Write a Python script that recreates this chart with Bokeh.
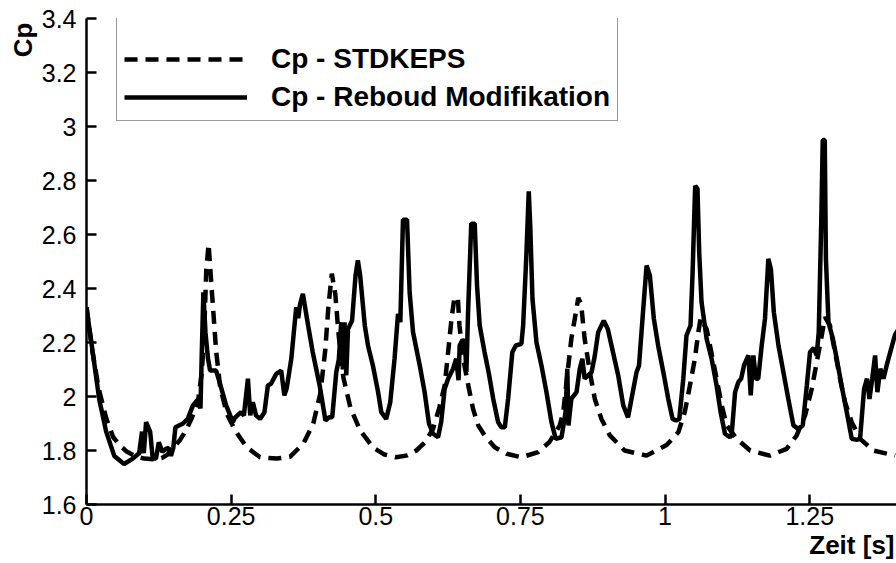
import math
from bokeh.plotting import figure
from bokeh.models import Range1d, FixedTicker, Legend, LegendItem, Title
from bokeh.embed import file_html
from bokeh.resources import INLINE

# ---------------- data ----------------
std_x = [0.000, 0.010, 0.021, 0.034, 0.046, 0.057, 0.070, 0.085, 0.100, 0.115,
         0.130, 0.140, 0.150, 0.162, 0.172, 0.182, 0.193, 0.199, 0.203, 0.207,
         0.211, 0.215, 0.219, 0.224, 0.231, 0.2426, 0.257, 0.277, 0.300, 0.329,
         0.352, 0.375, 0.392, 0.404, 0.4126, 0.418, 0.424, 0.430, 0.4357, 0.444,
         0.456, 0.473, 0.496, 0.515, 0.535, 0.555, 0.570, 0.585, 0.599, 0.610,
         0.619, 0.625, 0.631, 0.636, 0.642, 0.6446, 0.651, 0.660, 0.668, 0.677,
         0.688, 0.7056, 0.726, 0.752, 0.7806, 0.800, 0.818, 0.824, 0.831, 0.838,
         0.844, 0.850, 0.855, 0.861, 0.870, 0.8786, 0.890, 0.9045, 0.930, 0.968,
         1.0026, 1.023, 1.034, 1.043, 1.0515, 1.0575, 1.0614, 1.0718, 1.080, 1.089,
         1.098, 1.1064, 1.124, 1.147, 1.181, 1.210, 1.2275, 1.242, 1.2535, 1.2633,
         1.2708, 1.2765, 1.285, 1.2938, 1.3024, 1.311, 1.3227, 1.337, 1.360, 1.3976]
std_y = [2.33, 2.17, 2.03, 1.92, 1.85, 1.82, 1.795, 1.778, 1.77, 1.768,
         1.772, 1.785, 1.81, 1.84, 1.875, 1.92, 1.985, 2.085, 2.21, 2.467,
         2.565, 2.44, 2.32, 2.17, 2.035, 1.936, 1.874, 1.812, 1.775, 1.77,
         1.777, 1.826, 1.90, 2.01, 2.17, 2.33, 2.455, 2.38, 2.23, 2.07,
         1.96, 1.874, 1.81, 1.785, 1.775, 1.782, 1.80, 1.83, 1.88, 1.96,
         2.04, 2.164, 2.29, 2.368, 2.36, 2.263, 2.14, 2.04, 1.955, 1.893,
         1.856, 1.812, 1.788, 1.775, 1.794, 1.831, 1.893, 1.942, 2.08, 2.214,
         2.288, 2.365, 2.34, 2.214, 2.09, 1.991, 1.917, 1.856, 1.80, 1.781,
         1.82, 1.868, 1.942, 2.041, 2.14, 2.238, 2.29, 2.25, 2.164, 2.066,
         1.967, 1.893, 1.843, 1.80, 1.781, 1.806, 1.856, 1.93, 2.028, 2.14,
         2.226, 2.294, 2.263, 2.164, 2.066, 1.979, 1.905, 1.843, 1.80, 1.781]

reb_x = [0.000, 0.011, 0.022, 0.034, 0.048, 0.065, 0.080, 0.091, 0.096, 0.099,
         0.103, 0.110, 0.1145, 0.120, 0.125, 0.131, 0.1375, 0.142, 0.146, 0.150,
         0.1537, 0.166, 0.175, 0.184, 0.193, 0.197, 0.199, 0.202, 0.2056, 0.210,
         0.2137, 0.224, 0.230, 0.2414, 0.253, 0.256, 0.267, 0.272, 0.279, 0.283,
         0.2875, 0.293, 0.300, 0.3076, 0.3135, 0.319, 0.328, 0.3365, 0.342, 0.346,
         0.354, 0.3625, 0.366, 0.369, 0.374, 0.383, 0.391, 0.403, 0.413, 0.419,
         0.4247, 0.4317, 0.436, 0.4403, 0.443, 0.446, 0.449, 0.452, 0.459, 0.465,
         0.469, 0.473, 0.481, 0.4865, 0.495, 0.504, 0.5095, 0.518, 0.525, 0.5325,
         0.5384, 0.5424, 0.547, 0.554, 0.5585, 0.5644, 0.576, 0.5844, 0.592, 0.599,
         0.6076, 0.613, 0.619, 0.625, 0.6336, 0.639, 0.643, 0.645, 0.650, 0.654,
         0.6566, 0.6595, 0.665, 0.671, 0.675, 0.6796, 0.688, 0.695, 0.703, 0.7114,
         0.717, 0.723, 0.7287, 0.736, 0.742, 0.7517, 0.7547, 0.760, 0.7644, 0.767,
         0.7708, 0.7777, 0.7863, 0.795, 0.8036, 0.811, 0.821, 0.828, 0.831, 0.833,
         0.838, 0.847, 0.8526, 0.857, 0.861, 0.873, 0.8786, 0.8844, 0.894, 0.901,
         0.910, 0.919, 0.9277, 0.936, 0.942, 0.9507, 0.955, 0.961, 0.968, 0.9737,
         0.9806, 0.988, 0.997, 1.0055, 1.013, 1.019, 1.0246, 1.0315, 1.037, 1.044,
         1.0476, 1.052, 1.056, 1.059, 1.063, 1.0718, 1.0804, 1.089, 1.096, 1.1035,
         1.112, 1.115, 1.121, 1.1266, 1.1315, 1.1364, 1.144, 1.148, 1.1526, 1.157,
         1.161, 1.167, 1.1727, 1.1785, 1.183, 1.188, 1.196, 1.2045, 1.213, 1.2218,
         1.230, 1.238, 1.245, 1.2505, 1.257, 1.262, 1.2656, 1.2698, 1.2725, 1.276,
         1.278, 1.2824, 1.290, 1.2967, 1.305, 1.314, 1.3227, 1.331, 1.337, 1.344,
         1.349, 1.3533, 1.358, 1.363, 1.367, 1.372, 1.3775, 1.383, 1.397, 1.402]
reb_y = [2.33, 2.16, 1.99, 1.87, 1.78, 1.75, 1.77, 1.79, 1.87, 1.79,
         1.905, 1.87, 1.77, 1.77, 1.83, 1.795, 1.806, 1.81, 1.78, 1.81,
         1.886, 1.899, 1.917, 1.967, 1.99, 1.956, 2.14, 2.386, 2.238, 2.14,
         2.096, 2.096, 2.053, 1.967, 1.905, 1.92, 1.942, 1.93, 2.066, 1.93,
         1.979, 1.93, 1.917, 1.942, 2.041, 2.047, 2.084, 2.096, 2.004, 2.03,
         2.14, 2.331, 2.29, 2.34, 2.38, 2.263, 2.164, 2.041, 1.911, 1.923,
         1.923, 2.09, 2.135, 2.275, 2.10, 2.275, 2.078, 2.25, 2.281, 2.448,
         2.504, 2.448, 2.263, 2.189, 2.115, 2.016, 1.942, 1.917, 1.979, 2.141,
         2.306, 2.275, 2.655, 2.655, 2.386, 2.238, 2.115, 2.016, 1.899, 1.862,
         1.849, 1.905, 2.028, 2.066, 2.103, 2.14, 2.06, 2.189, 2.21, 2.20,
         2.09, 2.312, 2.64, 2.64, 2.411, 2.263, 2.164, 2.09, 1.991, 1.905,
         1.886, 1.886, 1.991, 2.164, 2.189, 2.195, 2.263, 2.51, 2.76, 2.63,
         2.362, 2.201, 2.115, 2.016, 1.905, 1.843, 1.849, 1.942, 2.103, 1.893,
         1.991, 2.016, 2.103, 2.14, 2.066, 2.09, 2.152, 2.238, 2.281, 2.25,
         2.164, 2.078, 1.967, 1.923, 1.991, 2.09, 2.115, 2.288, 2.485, 2.448,
         2.288, 2.189, 2.09, 1.991, 1.917, 1.911, 1.917, 2.066, 2.226, 2.263,
         2.46, 2.78, 2.77, 2.534, 2.35, 2.214, 2.14, 2.041, 1.942, 1.862,
         1.849, 1.856, 2.016, 2.053, 2.066, 2.115, 2.152, 2.004, 2.152, 2.066,
         2.066, 2.189, 2.288, 2.51, 2.47, 2.312, 2.189, 2.09, 1.991, 1.893,
         1.88, 1.893, 2.041, 2.164, 2.18, 2.152, 2.238, 2.633, 2.95, 2.95,
         2.51, 2.275, 2.214, 2.14, 2.041, 1.942, 1.843, 1.84, 1.843, 2.028,
         2.066, 1.991, 2.066, 2.152, 2.016, 2.103, 2.066, 2.115, 2.226, 2.245]

series_labels = ["Cp - STDKEPS", "Cp - Reboud Modifikation"]
x_ticks = [0.0, 0.25, 0.5, 0.75, 1.0, 1.25]
x_tick_labels = ["0", "0.25", "0.5", "0.75", "1", "1.25"]
y_ticks = [1.6, 1.8, 2.0, 2.2, 2.4, 2.6, 2.8, 3.0, 3.2, 3.4]
y_tick_labels = ["1.6", "1.8", "2", "2.2", "2.4", "2.6", "2.8", "3", "3.2", "3.4"]
x_title = "Zeit [s]"
y_title = "Cp"

FONT = "Liberation Sans"

p = figure(width=896, height=563, output_backend="svg", toolbar_location=None,
           x_range=Range1d(0, 1.4), y_range=Range1d(1.6, 3.4),
           min_border_left=86, min_border_right=0, min_border_top=18,
           min_border_bottom=59)
p.outline_line_color = None
p.grid.visible = False
p.background_fill_color = "white"
p.border_fill_color = "white"

for ax in (p.xaxis[0], p.yaxis[0]):
    ax.axis_line_width = 2.5
    ax.axis_line_color = "black"
    ax.major_tick_in = 10
    ax.major_tick_out = 0
    ax.major_tick_line_width = 2.5
    ax.major_tick_line_color = "black"
    ax.minor_tick_line_color = None
    ax.major_label_text_font = FONT
    ax.major_label_text_font_size = "25px"
    ax.major_label_text_color = "black"

p.xaxis.ticker = FixedTicker(ticks=x_ticks)
p.xaxis.major_label_overrides = {t: l for t, l in zip(x_ticks, x_tick_labels)}
p.xaxis.major_label_standoff = 2

p.yaxis.ticker = FixedTicker(ticks=y_ticks)
p.yaxis.major_label_overrides = {t: l for t, l in zip(y_ticks, y_tick_labels)}
p.yaxis.major_label_standoff = 10

# axis titles, placed at the far ends of the axes
p.add_layout(Title(text=x_title, align="right", vertical_align="bottom",
                   standoff=0, offset=2, text_font=FONT, text_font_style="bold",
                   text_font_size="26px", text_color="black"), "below")
p.add_layout(Title(text=y_title, align="right", vertical_align="bottom",
                   standoff=2, offset=4, text_font=FONT, text_font_style="bold",
                   text_font_size="26px", text_color="black"), "left")

r_dash = p.line(std_x, std_y, line_color="black", line_width=4.5, line_dash="13 8")
r_solid = p.line(reb_x, reb_y, line_color="black", line_width=4.5)

legend = Legend(items=[LegendItem(label=series_labels[0], renderers=[r_dash]),
                       LegendItem(label=series_labels[1], renderers=[r_solid])],
                location=(30, 383))
legend.title = " "
legend.title_text_font_size = "12px"
legend.title_standoff = 12
legend.margin = 0
legend.padding = 7
legend.spacing = 6
legend.glyph_width = 123
legend.glyph_height = 30
legend.label_height = 30
legend.label_standoff = 24
legend.label_text_font = FONT
legend.label_text_font_style = "bold"
legend.label_text_font_size = "28px"
legend.label_text_color = "black"
legend.border_line_color = "#333333"
legend.border_line_width = 1.5
legend.background_fill_color = "white"
legend.background_fill_alpha = 1.0
p.add_layout(legend)

open("out.html", "w").write(file_html(p, INLINE))
